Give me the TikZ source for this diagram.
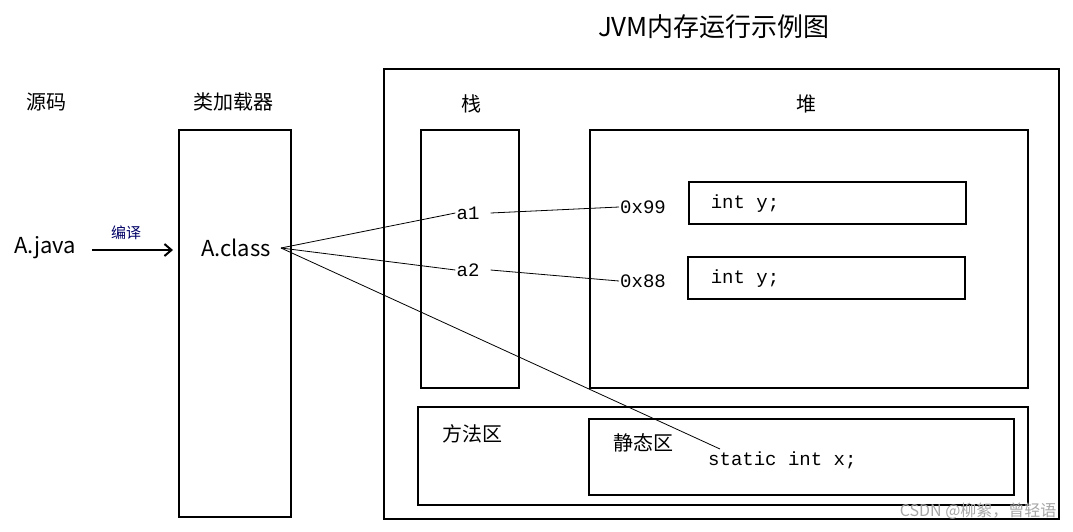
\documentclass[tikz,border=0pt]{standalone}
\usepackage{fontspec}
\setmainfont{Noto Sans CJK SC}
\newfontfamily\mono{Liberation Mono}
\usetikzlibrary{arrows.meta}
\begin{document}
\begin{tikzpicture}[x=1pt,y=-1pt,
  box/.style={draw,line width=2pt},
  lbl/.style={font=\fontsize{20}{24}\selectfont,inner sep=1pt},
  code/.style={font=\mono\fontsize{19}{22}\selectfont,inner sep=1pt},
  link/.style={line width=0.8pt}]
\useasboundingbox (0,0) rectangle (1073,531);
% title and headings
\node[font=\fontsize{26}{30}\selectfont] (title) at (714,27) {JVM内存运行示例图};
\node[lbl] (src) at (46,102) {源码};
\node[lbl] (ldr) at (233,102) {类加载器};
\node[lbl] (stk) at (471,104) {栈};
\node[lbl] (hp) at (806,104) {堆};
% boxes
\draw[box] (179,130) rectangle (291,517);
\draw[box] (384,69) rectangle (1059,519);
\draw[box] (421,130) rectangle (519,388);
\draw[box] (590,130) rectangle (1028,388);
\draw[box] (418,407) rectangle (1028,505);
\draw[box] (589,419) rectangle (1014,495);
\draw[box] (689,182) rectangle (966,224);
\draw[box] (688,257) rectangle (965,299);
\node[lbl] (ma) at (472,434) {方法区};
\node[lbl] (sa) at (643,443) {静态区};
% texts
\node[lbl,font=\fontsize{22}{26}\selectfont] (java) at (45,248) {A.java};
\node[lbl,font=\fontsize{22}{26}\selectfont] (cls) at (236,248) {A.class};
\node[font=\fontsize{15}{18}\selectfont,text=blue!40!black] (cmp) at (126,233) {编译};
\node[code] (a1) at (468,213) {a1};
\node[code] (a2) at (468,270) {a2};
\node[code] (h99) at (643,207) {0x99};
\node[code] (h88) at (643,281) {0x88};
\node[code] (y1) at (745,204) {int y;};
\node[code] (y2) at (745,279) {int y;};
\node[code,anchor=west] (sx) at (707,460) {static int x;};
\node[font=\fontsize{16}{18}\selectfont,text=gray!70,anchor=east] (wm) at (1060,511) {CSDN @柳絮，曾轻语};
% connectors
\coordinate (ja) at (92,250);
\coordinate (jb) at (173,250);
\draw[line width=2pt,-{Straight Barb[length=7pt,width=12pt]}] (ja) -- (jb);
\coordinate (c0) at (281,248);
\coordinate (sxe) at (720,449);
\draw[link] (c0) -- (a1.west);
\draw[link] (c0) -- (a2.west);
\draw[link] (c0) -- (sxe);
\draw[link] (a1.east)++(10,0) -- (h99.west);
\draw[link] (a2.east)++(10,0) -- (h88.west);
\end{tikzpicture}
\end{document}
